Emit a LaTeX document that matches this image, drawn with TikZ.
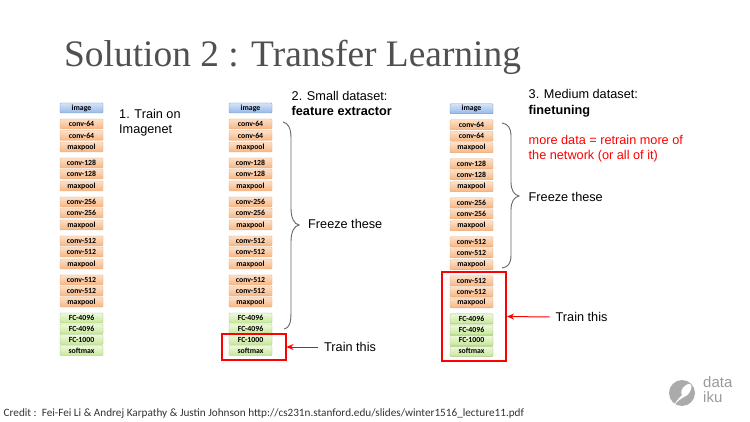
\documentclass[tikz,border=0pt]{standalone}
\usepackage{fontspec}
\setmainfont{Liberation Sans}
\newfontfamily\serifttl{Liberation Serif}
\newfontfamily\carl{Carlito}
\usetikzlibrary{arrows.meta}
\definecolor{ttl}{HTML}{505050}
\definecolor{braceg}{HTML}{666666}
\definecolor{logog}{HTML}{ABABAB}
\definecolor{oTop}{HTML}{FCE0C8}
\definecolor{oBot}{HTML}{F8B581}
\definecolor{oEdge}{HTML}{E3AE84}
\definecolor{gTop}{HTML}{EEF9DC}
\definecolor{gBot}{HTML}{C6E896}
\definecolor{gEdge}{HTML}{A6C283}
\definecolor{bTop}{HTML}{D5E3F7}
\definecolor{bBot}{HTML}{96B8EA}
\definecolor{bEdge}{HTML}{7895BE}
\tikzset{
  x=1pt,y=-1pt,
  layer/.style={rectangle,rounded corners=0.8pt,minimum width=43pt,minimum height=10pt,inner sep=0pt,
     font=\carl\bfseries\fontsize{7.8}{8}\selectfont,text=black},
  conv/.style={layer,draw=oEdge,top color=oTop,bottom color=oBot},
  fc/.style={layer,draw=gEdge,top color=gTop,bottom color=gBot},
  img/.style={layer,draw=bEdge,top color=bTop,bottom color=bBot},
  lab/.style={anchor=north west,align=left,inner sep=0pt,font=\fontsize{12.7}{15.5}\selectfont,text=black},
  redbox/.style={draw=red,line width=2pt,rectangle,inner sep=0pt},
  trainarrow/.style={draw=red,line width=1pt,-{Stealth[length=7pt,width=6pt]}},
  bracecurve/.style={draw=braceg,line width=0.9pt},
}
\newcommand{\vggstack}[3]{% prefix, center x, offset y
  \node[img] (#1i) at (#2,108+#3) {image};
  \foreach \n/\yy/\tt in {a/124/conv-64,b/135.5/conv-64,c/147/maxpool,
     d/163/conv-128,e/174/conv-128,f/186/maxpool,
     g/202/conv-256,h/213/conv-256,k/225/maxpool,
     l/241/conv-512,m/252/conv-512,n/264/maxpool,
     o/280/conv-512,p/291/conv-512,q/302/maxpool}{
     \node[conv] (#1\n) at (#2,\yy+#3) {\tt};
  }
  \foreach \n/\yy/\tt in {r/318/FC-4096,s/329/FC-4096,t/339.5/FC-1000,u/350.5/softmax}{
     \node[fc] (#1\n) at (#2,\yy+#3) {\tt};
  }
}
\begin{document}
\begin{tikzpicture}
\useasboundingbox[fill=white] (0,0) rectangle (750,422);
\node[anchor=base west,inner sep=0pt,text=ttl,font=\serifttl\fontsize{37.4}{40}\selectfont] (title) at (64,67) {Solution 2 : Transfer Learning};

\vggstack{A}{81.5}{0}
\vggstack{B}{250.5}{0}
\vggstack{C}{471.5}{0.8}

\node[lab] (t1) at (119,109) {1. Train on\\Imagenet};
\node[lab] (t2) at (291.5,91) {2. Small dataset:\\\textbf{feature extractor}};
\node[lab] (t3) at (528.5,89.5) {3. Medium dataset:\\\textbf{finetuning}};
\node[lab,text=red] (t4) at (528.5,135) {more data = retrain more of\\the network (or all of it)};
\node[lab,anchor=west] (f2) at (308,224) {Freeze these};
\node[lab,anchor=west] (f3) at (528.5,197) {Freeze these};
\node[lab,anchor=west] (tr2) at (324,347) {Train this};
\node[lab,anchor=west] (tr3) at (555.5,317) {Train this};

% brace of column 2
\path[bracecurve] (283,122) .. controls (288,123) and (291,128) .. (291,138)
   -- (291,208) .. controls (291,218) and (294,224) .. (299,225)
   .. controls (294,226) and (291,232) .. (291,242)
   -- (291,312) .. controls (291,324) and (289,328) .. (284,329);
% brace of column 3
\path[bracecurve] (502,123) .. controls (508,124) and (511,128) .. (511,136)
   -- (511,182) .. controls (511,190) and (514,195) .. (519,196)
   .. controls (514,197) and (511,202) .. (511,210)
   -- (511,255) .. controls (511,264) and (508,267) .. (502,268);

% red boxes
\node[redbox,minimum width=64pt,minimum height=26pt] (r2) at (253.5,347) {};
\node[redbox,minimum width=64pt,minimum height=89pt] (r3) at (474,316.5) {};
\draw[trainarrow] (tr2.west)+(-6,0) coordinate (s2) (s2) -- (r2.east);
\draw[trainarrow] (tr3.west)+(-6,0) coordinate (s3) (s3) -- (r3.east);

% logo
\node[circle,fill=logog,minimum size=26pt,inner sep=0pt] (logo) at (682,393) {};
\fill[white] (674,405) .. controls (677,400) and (680,397) .. (682,395)
  .. controls (680,392) and (682,387) .. (687,384.5) .. controls (689,383) and (691,383.5) .. (691.5,386)
  .. controls (691,391) and (689,395) .. (684,397) .. controls (680,399) and (677,402) .. (674,405) -- cycle;
\node[anchor=north west,inner sep=0pt,align=left,text=logog!90!black,font=\fontsize{15}{15}\selectfont] (logot) at (703,376.5) {data\\iku};

\node[anchor=base west,inner sep=0pt,text=black!80,font=\carl\fontsize{11.2}{13}\selectfont] (credit) at (3.5,416) {Credit :\ \ Fei-Fei Li \& Andrej Karpathy \& Justin Johnson http://cs231n.stanford.edu/slides/winter1516\_lecture11.pdf};
\end{tikzpicture}
\end{document}
